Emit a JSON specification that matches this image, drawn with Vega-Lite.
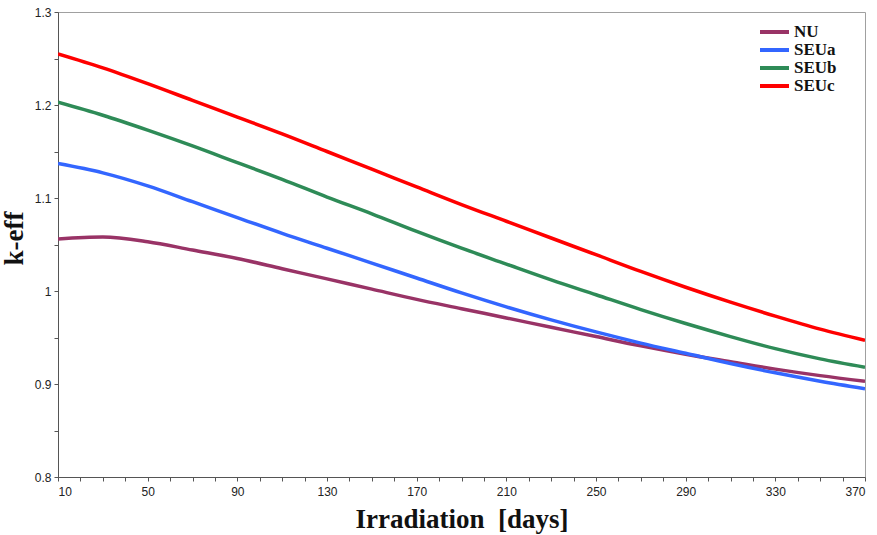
{
  "$schema": "https://vega.github.io/schema/vega-lite/v6.json",
  "width": 807,
  "height": 465,
  "padding": {"left": 58, "top": 12, "right": 12, "bottom": 58},
  "autosize": {"type": "none"},
  "background": "white",
  "config": {
    "view": {"stroke": "#a0a0a0", "strokeWidth": 1},
    "axis": {"grid": false, "domainColor": "#555555", "tickColor": "#555555", "labelFont": "Liberation Sans", "labelFontSize": 12, "labelColor": "#222222", "tickSize": 4, "titleFont": "Liberation Serif", "titleFontWeight": "bold", "titleFontSize": 27, "titleColor": "#111111"}
  },
  "data": {
    "values": [
      {"day": 10, "series": "NU", "keff": 1.056}, {"day": 30, "series": "NU", "keff": 1.058}, {"day": 50, "series": "NU", "keff": 1.053}, {"day": 70, "series": "NU", "keff": 1.044}, {"day": 90, "series": "NU", "keff": 1.035}, {"day": 110, "series": "NU", "keff": 1.024}, {"day": 130, "series": "NU", "keff": 1.013}, {"day": 150, "series": "NU", "keff": 1.002}, {"day": 170, "series": "NU", "keff": 0.991}, {"day": 190, "series": "NU", "keff": 0.981}, {"day": 210, "series": "NU", "keff": 0.971}, {"day": 230, "series": "NU", "keff": 0.961}, {"day": 250, "series": "NU", "keff": 0.951}, {"day": 270, "series": "NU", "keff": 0.941}, {"day": 290, "series": "NU", "keff": 0.932}, {"day": 310, "series": "NU", "keff": 0.924}, {"day": 330, "series": "NU", "keff": 0.916}, {"day": 350, "series": "NU", "keff": 0.909}, {"day": 370, "series": "NU", "keff": 0.903},
      {"day": 10, "series": "SEUa", "keff": 1.137}, {"day": 30, "series": "SEUa", "keff": 1.127}, {"day": 50, "series": "SEUa", "keff": 1.113}, {"day": 70, "series": "SEUa", "keff": 1.096}, {"day": 90, "series": "SEUa", "keff": 1.079}, {"day": 110, "series": "SEUa", "keff": 1.062}, {"day": 130, "series": "SEUa", "keff": 1.046}, {"day": 150, "series": "SEUa", "keff": 1.030}, {"day": 170, "series": "SEUa", "keff": 1.014}, {"day": 190, "series": "SEUa", "keff": 0.998}, {"day": 210, "series": "SEUa", "keff": 0.983}, {"day": 230, "series": "SEUa", "keff": 0.969}, {"day": 250, "series": "SEUa", "keff": 0.956}, {"day": 270, "series": "SEUa", "keff": 0.944}, {"day": 290, "series": "SEUa", "keff": 0.933}, {"day": 310, "series": "SEUa", "keff": 0.922}, {"day": 330, "series": "SEUa", "keff": 0.912}, {"day": 350, "series": "SEUa", "keff": 0.903}, {"day": 370, "series": "SEUa", "keff": 0.895},
      {"day": 10, "series": "SEUb", "keff": 1.203}, {"day": 30, "series": "SEUb", "keff": 1.189}, {"day": 50, "series": "SEUb", "keff": 1.173}, {"day": 70, "series": "SEUb", "keff": 1.156}, {"day": 90, "series": "SEUb", "keff": 1.138}, {"day": 110, "series": "SEUb", "keff": 1.120}, {"day": 130, "series": "SEUb", "keff": 1.101}, {"day": 150, "series": "SEUb", "keff": 1.083}, {"day": 170, "series": "SEUb", "keff": 1.064}, {"day": 190, "series": "SEUb", "keff": 1.046}, {"day": 210, "series": "SEUb", "keff": 1.029}, {"day": 230, "series": "SEUb", "keff": 1.012}, {"day": 250, "series": "SEUb", "keff": 0.996}, {"day": 270, "series": "SEUb", "keff": 0.980}, {"day": 290, "series": "SEUb", "keff": 0.965}, {"day": 310, "series": "SEUb", "keff": 0.951}, {"day": 330, "series": "SEUb", "keff": 0.938}, {"day": 350, "series": "SEUb", "keff": 0.927}, {"day": 370, "series": "SEUb", "keff": 0.918},
      {"day": 10, "series": "SEUc", "keff": 1.255}, {"day": 30, "series": "SEUc", "keff": 1.240}, {"day": 50, "series": "SEUc", "keff": 1.223}, {"day": 70, "series": "SEUc", "keff": 1.205}, {"day": 90, "series": "SEUc", "keff": 1.187}, {"day": 110, "series": "SEUc", "keff": 1.169}, {"day": 130, "series": "SEUc", "keff": 1.150}, {"day": 150, "series": "SEUc", "keff": 1.131}, {"day": 170, "series": "SEUc", "keff": 1.112}, {"day": 190, "series": "SEUc", "keff": 1.093}, {"day": 210, "series": "SEUc", "keff": 1.075}, {"day": 230, "series": "SEUc", "keff": 1.057}, {"day": 250, "series": "SEUc", "keff": 1.039}, {"day": 270, "series": "SEUc", "keff": 1.021}, {"day": 290, "series": "SEUc", "keff": 1.004}, {"day": 310, "series": "SEUc", "keff": 0.988}, {"day": 330, "series": "SEUc", "keff": 0.973}, {"day": 350, "series": "SEUc", "keff": 0.959}, {"day": 370, "series": "SEUc", "keff": 0.947}
    ]
  },
  "mark": {"type": "line", "strokeWidth": 3.5, "interpolate": "monotone", "clip": true},
  "encoding": {
    "x": {
      "field": "day", "type": "quantitative",
      "scale": {"domain": [10, 370], "nice": false, "zero": false},
      "axis": {
        "title": "Irradiation\u00a0 [days]",
        "titlePadding": 9,
        "values": [10,20,30,40,50,60,70,80,90,100,110,120,130,140,150,160,170,180,190,200,210,220,230,240,250,260,270,280,290,300,310,320,330,340,350,360,370],
        "labelExpr": "(datum.value - 10) % 40 == 0 ? datum.label : ''",
        "labelPadding": 5
      }
    },
    "y": {
      "field": "keff", "type": "quantitative",
      "scale": {"domain": [0.8, 1.3], "nice": false, "zero": false},
      "axis": {
        "title": "k-eff",
        "titlePadding": 6,
        "titleY": 226,
        "values": [0.8, 0.85, 0.9, 0.95, 1.0, 1.05, 1.1, 1.15, 1.2, 1.25, 1.3],
        "labelExpr": "round(datum.value * 20) % 2 == 0 ? toString(round(datum.value * 10) / 10) : ''",
        "labelPadding": 3
      }
    },
    "color": {
      "field": "series", "type": "nominal",
      "scale": {"domain": ["NU", "SEUa", "SEUb", "SEUc"], "range": ["#993366", "#3366ff", "#2e8b57", "#ff0000"]},
      "legend": {
        "title": null,
        "orient": "none",
        "legendX": 700,
        "legendY": 11,
        "symbolType": "stroke",
        "symbolSize": 841,
        "symbolStrokeWidth": 4,
        "clipHeight": 18,
        "labelFont": "Liberation Serif",
        "labelFontWeight": "bold",
        "labelFontSize": 17,
        "labelColor": "#111111",
        "labelOffset": 3,
        "rowPadding": 0
      }
    }
  }
}
